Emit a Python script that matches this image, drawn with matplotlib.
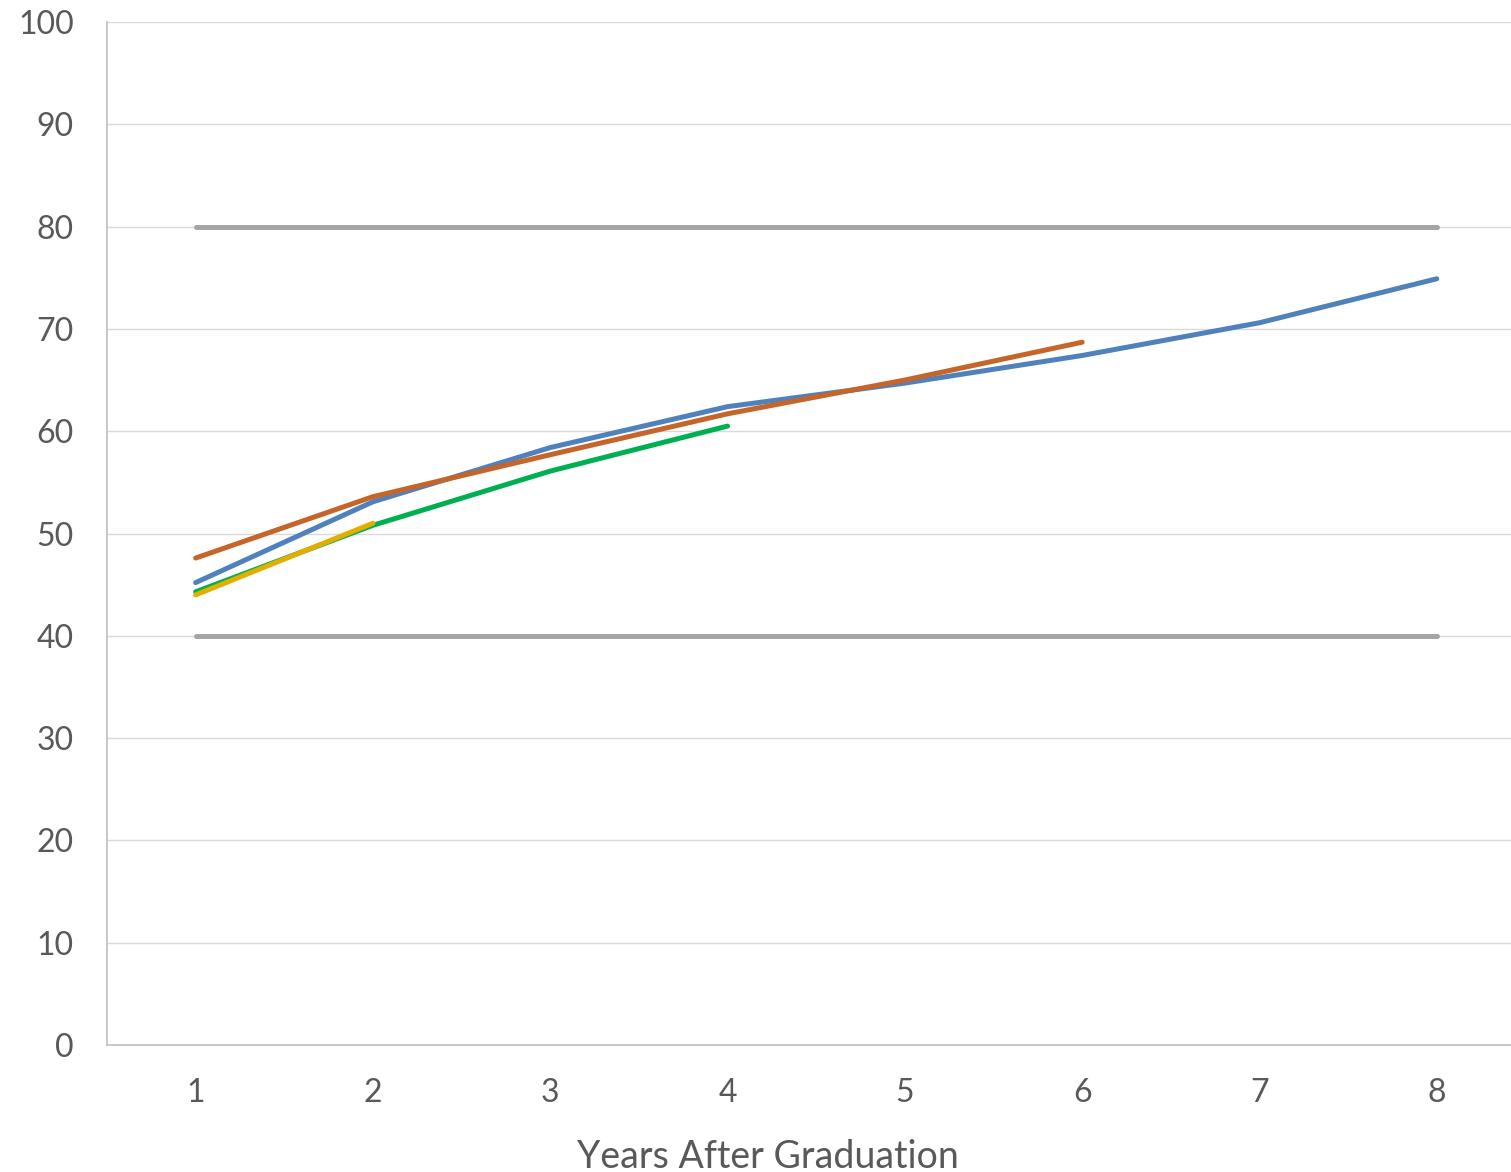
import numpy as np
import matplotlib.pyplot as plt

plt.rcParams['font.family'] = ['Lato', 'DejaVu Sans']

years = [1, 2, 3, 4, 5, 6, 7, 8]
blue = [45.2, 53.1, 58.4, 62.4, 64.7, 67.4, 70.6, 74.9]
orange = [47.6, 53.6, 57.7, 61.7, 65.0, 68.7]
green = [44.3, 50.8, 56.1, 60.5]
yellow = [44.0, 51.0]
upper = [80] * 8
lower = [40] * 8

fig = plt.figure(figsize=(15.11, 11.72), dpi=100)
ax = fig.add_axes([107/1511, 1 - 1045/1172, 1 - 107/1511, (1045 - 22)/1172])

lw = 3.6
ax.plot(years, upper, color='#a5a5a5', lw=lw, solid_capstyle='round')
ax.plot(years, lower, color='#a5a5a5', lw=lw, solid_capstyle='round')
ax.plot(years, blue, color='#4f81bd', lw=lw, solid_capstyle='round')
ax.plot(years[:6], orange, color='#c5652a', lw=lw, solid_capstyle='round')
ax.plot(years[:4], green, color='#00b050', lw=lw, solid_capstyle='round')
ax.plot(years[:2], yellow, color='#e2ae00', lw=lw, solid_capstyle='round')

ax.set_xlim(0.5, 0.5 + 1404/177.3)
ax.set_ylim(0, 100)
ax.set_yticks(np.arange(0, 101, 10))
ax.set_xticks(years)
ax.grid(axis='y', color='#d9d9d9', lw=1)
ax.set_axisbelow(True)
for s in ['top', 'right']:
    ax.spines[s].set_visible(False)
for s in ['left', 'bottom']:
    ax.spines[s].set_color('#bfbfbf')
    ax.spines[s].set_linewidth(1.2)
ax.tick_params(length=0, labelsize=23, labelcolor='#595959')
ax.tick_params(axis='y', pad=24)
ax.tick_params(axis='x', pad=24)

fig.text(768/1511, 1 - 1168/1172, 'Years After Graduation', ha='center', va='baseline',
         fontsize=27, color='#595959')

fig.savefig('out.png', dpi=100)
